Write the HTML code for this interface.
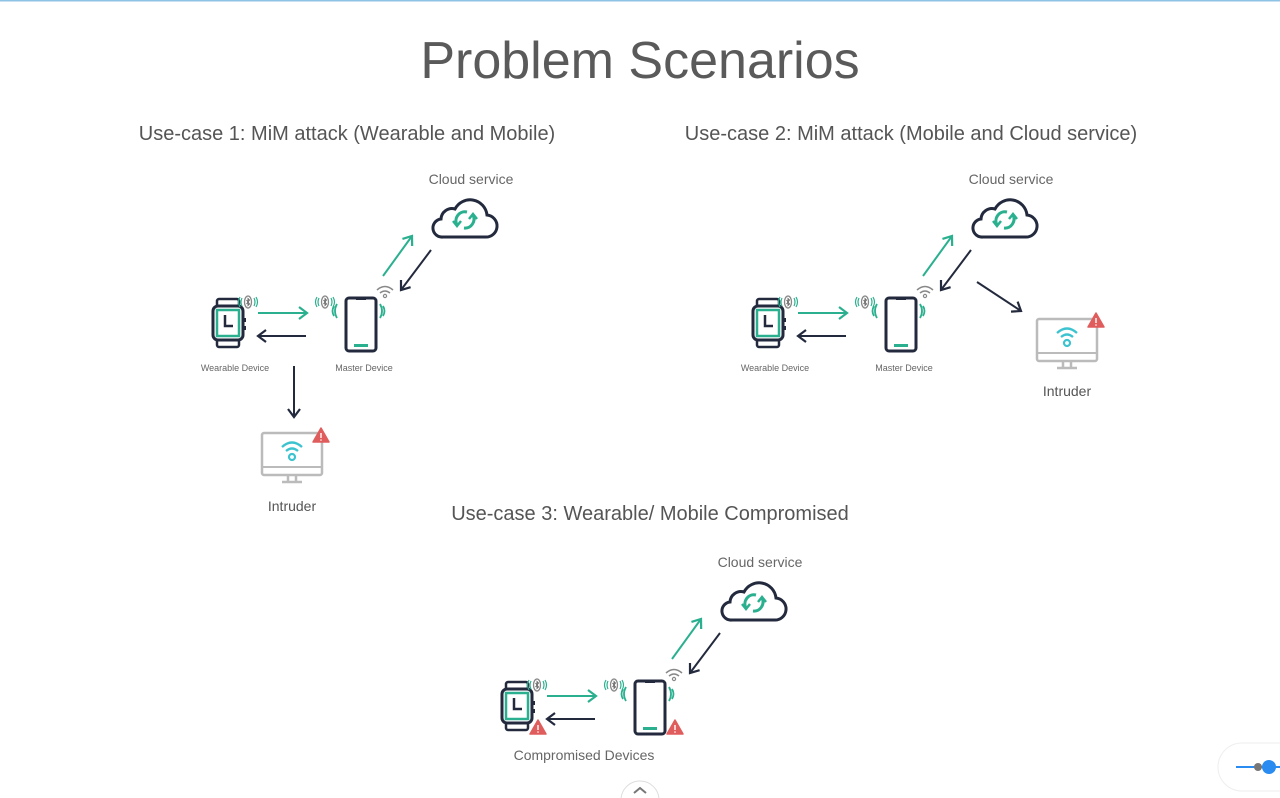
<!DOCTYPE html>
<html><head><meta charset="utf-8"><style>
html,body{margin:0;padding:0;background:#fff;width:1280px;height:798px;overflow:hidden;font-family:"Liberation Sans",sans-serif}
</style></head><body>
<svg width="1280" height="798" viewBox="0 0 1280 798" xmlns="http://www.w3.org/2000/svg" font-family="Liberation Sans, sans-serif">
<defs>
<marker id="ag" markerWidth="14" markerHeight="14" refX="10" refY="7" orient="auto" markerUnits="userSpaceOnUse"><path d="M2,1 L10,7 L2,13" fill="none" stroke="#2bb08f" stroke-width="2.2"/></marker>
<marker id="ad" markerWidth="14" markerHeight="14" refX="10" refY="7" orient="auto" markerUnits="userSpaceOnUse"><path d="M2,1 L10,7 L2,13" fill="none" stroke="#232a3d" stroke-width="2.2"/></marker>
<g id="watch">
<rect x="-11" y="-24" width="22" height="8" rx="2" fill="none" stroke="#232a3d" stroke-width="2.5"/>
<rect x="-11" y="16" width="22" height="8" rx="2" fill="none" stroke="#232a3d" stroke-width="2.5"/>
<rect x="-15" y="-17" width="30" height="34" rx="5" fill="#fff" stroke="#232a3d" stroke-width="3"/>
<rect x="-11" y="-13" width="22" height="26" fill="none" stroke="#2bb08f" stroke-width="2.5"/>
<path d="M-3,-8 V3 H5" fill="none" stroke="#232a3d" stroke-width="2.5"/>
<rect x="15" y="-5" width="3" height="4" fill="#232a3d"/><rect x="15" y="3" width="3" height="4" fill="#232a3d"/>
</g>
<g id="phone">
<rect x="-15" y="-26" width="30" height="53" rx="3" fill="#fff" stroke="#232a3d" stroke-width="3"/>
<path d="M-5,-26 h10 v2 h-10z" fill="#232a3d"/>
<rect x="-7" y="20" width="14" height="3" fill="#2bb08f"/>
</g>
<g id="bt">
<ellipse cx="0" cy="0" rx="3.5" ry="6" fill="#fff" stroke="#888" stroke-width="1.3"/>
<path d="M-1.5,-2 L1.5,2 L0,3.5 V-3.5 L1.5,-2 L-1.5,2" fill="none" stroke="#666" stroke-width="0.9"/>
<path d="M-6,-4 q-2,4 0,8 M-8,-5 q-3,5 0,10 M6,-4 q2,4 0,8 M8,-5 q3,5 0,10" fill="none" stroke="#2bb08f" stroke-width="1.2"/>
</g>
<g id="wifi"><path d="M-8,-3 q8,-7 16,0 M-5,0 q5,-4 10,0" fill="none" stroke="#888" stroke-width="1.5"/><circle cx="0" cy="3" r="1.6" fill="none" stroke="#888" stroke-width="1.2"/></g>
<g id="cloud">
<path d="M10,42 H52 a11,11 0 0 0 2,-22 a17,17 0 0 0 -32,-6 a11,11 0 0 0 -14,10 a9,9 0 0 0 2,18 z" fill="#fff" stroke="#232a3d" stroke-width="3"/>
<path d="M24,30 a9,9 0 0 1 10,-13 M40,20 a9,9 0 0 1 -9,13" fill="none" stroke="#2bb08f" stroke-width="3"/>
<path d="M20,26 l4,5 l4,-5 M44,24 l-4,-5 l-4,5" fill="none" stroke="#2bb08f" stroke-width="2.5"/>
</g>
<g id="monitor">
<rect x="0" y="0" width="60" height="42" rx="2" fill="#fff" stroke="#bbb" stroke-width="2.5"/>
<line x1="0" y1="34" x2="60" y2="34" stroke="#bbb" stroke-width="2"/>
<path d="M26,42 v6 M34,42 v6 M20,49 h20" stroke="#bbb" stroke-width="2.5" fill="none"/>
<path d="M20,14 q10,-9 20,0 M24,18 q6,-5 12,0" fill="none" stroke="#3cc3cf" stroke-width="2.3"/>
<circle cx="30" cy="24" r="3" fill="none" stroke="#3cc3cf" stroke-width="2.2"/>
</g>
<g id="warn"><path d="M0,-8 L8,6 H-8 Z" fill="#e05d5d" stroke="#e05d5d" stroke-width="1.5" stroke-linejoin="round"/><path d="M0,-3 V2" stroke="#fff" stroke-width="1.4"/><circle cx="0" cy="4" r="0.8" fill="#fff"/></g>
<g id="core">
<use href="#watch" x="228" y="323"/>
<use href="#bt" x="248" y="302"/>
<use href="#bt" x="325" y="302"/>
<path d="M334,306 q-3,5 0,10 M337,304 q-4,7 0,14 M383,306 q3,5 0,10 M380,304 q4,7 0,14" fill="none" stroke="#2bb08f" stroke-width="1.8"/>
<use href="#phone" x="361" y="324"/>
<use href="#wifi" x="385" y="293"/>
<use href="#cloud" x="433" y="195"/>
<line x1="258" y1="313" x2="307" y2="313" stroke="#2bb08f" stroke-width="2" marker-end="url(#ag)"/>
<line x1="306" y1="336" x2="258" y2="336" stroke="#232a3d" stroke-width="2" marker-end="url(#ad)"/>
<line x1="383" y1="276" x2="412" y2="236" stroke="#2bb08f" stroke-width="2" marker-end="url(#ag)"/>
<line x1="431" y1="250" x2="401" y2="290" stroke="#232a3d" stroke-width="2" marker-end="url(#ad)"/>
<text x="471" y="184" font-size="14" fill="#666" text-anchor="middle">Cloud service</text>
</g>
</defs>
<rect x="0" y="0" width="1280" height="1.5" fill="#8fc3e6"/>
<text x="640" y="78" font-size="52" fill="#5a5a5a" text-anchor="middle">Problem Scenarios</text>
<text x="347" y="140" font-size="20" fill="#555" text-anchor="middle">Use-case 1: MiM attack (Wearable and Mobile)</text>
<text x="911" y="140" font-size="20" fill="#555" text-anchor="middle">Use-case 2: MiM attack (Mobile and Cloud service)</text>
<text x="650" y="520" font-size="20" fill="#555" text-anchor="middle">Use-case 3: Wearable/ Mobile Compromised</text>

<use href="#core"/>
<text x="235" y="371" font-size="9" fill="#666" text-anchor="middle">Wearable Device</text>
<text x="364" y="371" font-size="9" fill="#666" text-anchor="middle">Master Device</text>
<line x1="294" y1="366" x2="294" y2="417" stroke="#232a3d" stroke-width="2" marker-end="url(#ad)"/>
<use href="#monitor" x="262" y="433"/>
<use href="#warn" x="321" y="436"/>
<text x="292" y="511" font-size="14" fill="#555" text-anchor="middle">Intruder</text>

<g transform="translate(540,0)">
<use href="#core"/>
<text x="235" y="371" font-size="9" fill="#666" text-anchor="middle">Wearable Device</text>
<text x="364" y="371" font-size="9" fill="#666" text-anchor="middle">Master Device</text>
</g>
<line x1="977" y1="282" x2="1021" y2="311" stroke="#232a3d" stroke-width="2" marker-end="url(#ad)"/>
<use href="#monitor" x="1037" y="319"/>
<use href="#warn" x="1096" y="321"/>
<text x="1067" y="396" font-size="14" fill="#555" text-anchor="middle">Intruder</text>

<g transform="translate(289,383)"><use href="#core"/></g>
<use href="#warn" x="538" y="728"/>
<use href="#warn" x="675" y="728"/>
<text x="584" y="760" font-size="14" fill="#666" text-anchor="middle">Compromised Devices</text>

<circle cx="640" cy="800" r="19" fill="#fff" stroke="#ddd" stroke-width="1"/>
<path d="M634,793 l6,-5 l6,5" fill="none" stroke="#777" stroke-width="2"/>
<rect x="1218" y="743" width="90" height="48" rx="24" fill="#fff" stroke="#eee" stroke-width="1"/>
<line x1="1236" y1="767" x2="1280" y2="767" stroke="#2a8cf0" stroke-width="2"/>
<circle cx="1258" cy="767" r="4" fill="#777"/>
<circle cx="1269" cy="767" r="7" fill="#2a8cf0"/>
</svg>
</body></html>
